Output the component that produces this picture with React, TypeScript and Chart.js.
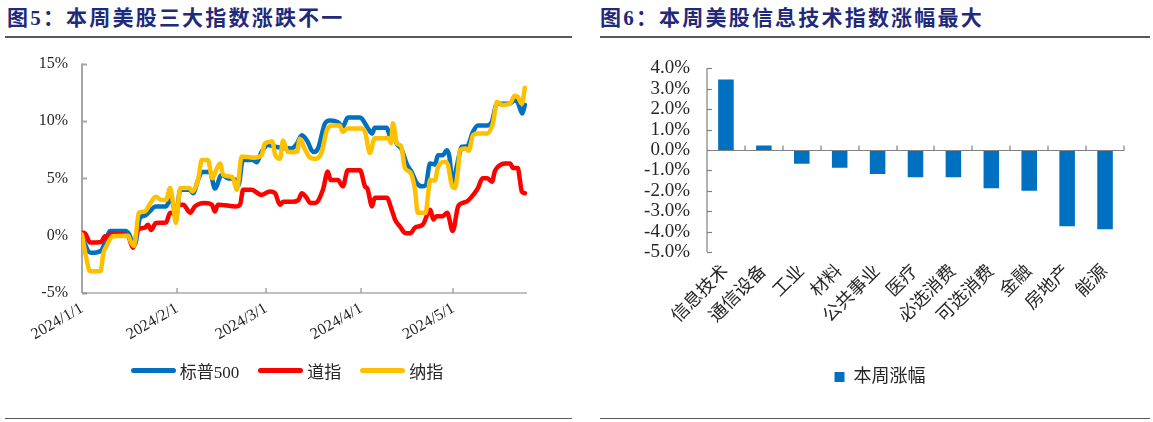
import React, { useEffect, useRef } from 'react';
import { Chart, registerables } from 'chart.js';

Chart.register(...registerables);

// ---------- Figure 5 data (day offset from 2024/1/1, cumulative % change) ----------
const monthTickDays = [0, 31, 60, 91, 121];
const monthTickLabels = ['2024/1/1', '2024/2/1', '2024/3/1', '2024/4/1', '2024/5/1'];

const spxDays = [0, 2, 3, 6.2, 7.5, 9.1, 14, 15.6, 16.6, 17.5, 18.9, 20.5, 22, 24, 27.4, 28.7, 29.6, 30.6, 32, 35, 36.2, 37.8, 39.1, 41.7, 43.3, 45.5, 47.5, 50.2, 51, 52.4, 55.7, 56.9, 58.5, 60.6, 62.9, 68.3, 70, 71.6, 73.5, 74.8, 75.6, 76.9, 79.2, 80.8, 83.4, 85, 86.6, 90.6, 91.5, 93.2, 94.5, 95.4, 99.3, 100.5, 101.3, 102.6, 104, 105.9, 107.5, 109, 110.7, 112, 113.4, 115, 116, 117.5, 118.9, 119.7, 120.8, 122, 123.8, 125.5, 127.4, 129, 132, 133.5, 135.2, 139.4, 141, 142, 143.5, 144.3];
const spxValues = [0, -1.35, -1.5, -1.3, -0.6, 0.4, 0.4, 0, -0.9, -0.6, 1.55, 1.75, 2.1, 2.55, 2.55, 3.1, 2.8, 1.6, 4.0, 4.0, 3.7, 4.85, 5.55, 5.55, 4.1, 5.3, 5.0, 4.85, 4.4, 6.6, 6.6, 6.4, 7.3, 7.9, 7.75, 7.6, 8.0, 8.75, 8.2, 7.45, 7.3, 7.6, 9.8, 10.05, 9.9, 9.5, 10.3, 10.3, 10.1, 9.35, 8.9, 9.4, 9.4, 8.6, 9.0, 8.0, 7.6, 6.2, 5.5, 4.6, 4.3, 4.4, 6.3, 6.2, 7.0, 7.0, 7.45, 6.9, 4.5, 5.9, 7.75, 7.8, 9.05, 9.6, 9.6, 9.9, 11.5, 11.5, 11.8, 11.6, 10.65, 11.4];

const dowDays = [0, 1, 2.6, 6.2, 7.5, 8.5, 9.5, 12, 15, 16.6, 18.2, 20.5, 21.5, 22.5, 24.1, 27.4, 28.7, 30, 31.3, 33, 35.2, 36.8, 38.4, 40, 42.3, 43.3, 44.3, 50.2, 51.5, 52.5, 55.2, 58.5, 61.2, 62.9, 64.5, 65.6, 68.3, 70.5, 71.6, 73.2, 74.3, 76, 78.5, 80.1, 81, 83.4, 85, 86.6, 90.6, 92.2, 93, 94.5, 95.4, 99.3, 101, 102, 103.6, 105.2, 107, 108.5, 111, 113.5, 114.5, 115.5, 117.5, 119, 120.8, 122.5, 124, 125.5, 127, 129, 130.5, 132, 133.6, 134.5, 135.5, 137.8, 139.5, 140.4, 142, 142.7, 143.3, 144.3];
const dowValues = [0.25, 0.2, -0.6, -0.55, -0.05, -0.3, 0.2, 0.15, -0.05, -1.05, 0.5, 0.7, 0.95, 0.5, 1.1, 1.15, 2.0, 1.9, 2.7, 2.7, 2.0, 2.55, 2.8, 2.85, 2.7, 2.1, 2.7, 2.55, 2.7, 4.0, 4.0, 3.55, 3.85, 3.7, 2.7, 2.95, 2.95, 3.1, 3.7, 3.3, 2.85, 2.85, 4.0, 5.6, 4.85, 4.85, 4.3, 5.7, 5.7, 4.3, 4.1, 2.55, 3.3, 3.3, 2.2, 1.4, 0.8, 0.25, 0.2, 0.7, 0.95, 2.25, 1.4, 1.7, 1.7, 2.0, 0.4, 2.5, 2.85, 3.0, 3.4, 4.15, 5.0, 5.0, 4.7, 5.6, 6.0, 6.3, 6.3, 5.9, 5.9, 4.85, 3.85, 3.7];

const ndxDays = [0, 1.3, 2.6, 6, 7, 8, 10, 15, 16, 17, 18.5, 20.5, 22, 24, 26, 27.4, 28.7, 29.6, 30.6, 32, 35, 36, 38, 39, 41, 42.5, 44, 45, 46, 49, 50.5, 52, 56, 58.5, 59.5, 62, 63, 64.5, 65.5, 67, 70, 71, 72.5, 74.3, 76, 78, 79.8, 81.4, 84, 85, 86.6, 91, 92.2, 93.8, 95.4, 100, 100.7, 101.3, 102.6, 104, 105.2, 107, 108.5, 109.4, 112, 112.7, 113.4, 115, 116, 118.2, 119.2, 120.5, 121.5, 122.5, 123.1, 125, 126, 127.4, 129, 132, 133.9, 135.2, 137, 139.4, 141, 142, 143.3, 144.3];
const ndxValues = [0.1, -1.8, -3.1, -3.1, -1.5, -0.9, -0.05, 0, -0.6, -0.9, 2.0, 2.1, 2.7, 3.4, 3.1, 3.1, 4.15, 3.0, 1.1, 4.15, 4.15, 3.85, 5.1, 6.6, 6.6, 5.0, 5.9, 6.3, 5.3, 5.1, 4.0, 6.9, 6.8, 7.0, 8.0, 8.2, 7.0, 6.7, 8.3, 7.3, 7.3, 8.45, 7.6, 6.8, 6.7, 7.2, 9.2, 9.6, 9.6, 9.05, 9.35, 9.35, 9.1, 7.2, 8.5, 8.5, 8.05, 9.8, 8.05, 7.8, 5.9, 5.5, 4.0, 2.0, 2.0, 3.4, 4.85, 4.8, 6.0, 6.45, 6.2, 4.4, 4.15, 5.7, 7.45, 7.6, 7.4, 8.75, 8.9, 8.9, 9.8, 11.65, 11.4, 11.5, 12.2, 12.1, 11.5, 12.9];

const lineSeriesNames = ['标普500', '道指', '纳指'];
const lineSeriesColors = ['#0070C0', '#FF0000', '#FFC000'];

// ---------- Figure 6 data ----------
const sectorNames = ['信息技术', '通信设备', '工业', '材料', '公共事业', '医疗', '必选消费', '可选消费', '金融', '房地产', '能源'];
const sectorWeeklyChange = [3.45, 0.22, -0.68, -0.87, -1.18, -1.34, -1.34, -1.87, -2.0, -3.74, -3.89];
const barSeriesName = '本周涨幅';

const FONT_FAMILY = "'Liberation Serif', 'Noto Sans CJK SC', serif";
const TICK_COLOR = '#262626';

function toPoints(days: number[], values: number[]) {
  return days.map((d, i) => ({ x: d, y: values[i] }));
}

const lineAxesPlugin = {
  id: 'lineAxes',
  beforeDatasetsDraw(chart: any) {
    const { ctx, chartArea } = chart;
    const x = chart.scales.x;
    const y = chart.scales.y;
    ctx.save();
    ctx.strokeStyle = '#A6A6A6';
    ctx.lineWidth = 2;
    ctx.beginPath();
    ctx.moveTo(chartArea.left, chartArea.top);
    ctx.lineTo(chartArea.left, chartArea.bottom);
    ctx.stroke();
    y.ticks.forEach((t: any) => {
      const py = Math.round(y.getPixelForValue(t.value)) + 0.5;
      ctx.beginPath();
      ctx.moveTo(chartArea.left, py);
      ctx.lineTo(chartArea.left + 5, py);
      ctx.stroke();
    });
    ctx.strokeStyle = '#808080';
    ctx.lineWidth = 1.2;
    ctx.beginPath();
    ctx.moveTo(chartArea.left, chartArea.bottom);
    ctx.lineTo(chartArea.right, chartArea.bottom);
    ctx.stroke();
    ctx.strokeStyle = '#A6A6A6';
    ctx.lineWidth = 1.5;
    x.ticks.forEach((t: any) => {
      const px = Math.round(x.getPixelForValue(t.value));
      ctx.beginPath();
      ctx.moveTo(px, chartArea.bottom);
      ctx.lineTo(px, chartArea.bottom - 5);
      ctx.stroke();
    });
    ctx.restore();
  },
};

const barAxesPlugin = {
  id: 'barAxes',
  afterDatasetsDraw(chart: any) {
    const { ctx, chartArea } = chart;
    const y = chart.scales.y;
    const x = chart.scales.x;
    ctx.save();
    ctx.strokeStyle = '#808080';
    ctx.lineWidth = 1.2;
    ctx.beginPath();
    ctx.moveTo(chartArea.left, chartArea.top);
    ctx.lineTo(chartArea.left, chartArea.bottom);
    ctx.stroke();
    y.ticks.forEach((t: any) => {
      const py = Math.round(y.getPixelForValue(t.value)) + 0.5;
      ctx.beginPath();
      ctx.moveTo(chartArea.left, py);
      ctx.lineTo(chartArea.left + 5, py);
      ctx.stroke();
    });
    const y0 = Math.round(y.getPixelForValue(0)) + 0.5;
    ctx.beginPath();
    ctx.moveTo(chartArea.left, y0);
    ctx.lineTo(chartArea.right, y0);
    ctx.stroke();
    const n = sectorNames.length;
    for (let k = 1; k <= n; k++) {
      const bx = k === n
        ? chartArea.right
        : Math.round((x.getPixelForValue(k - 1) + x.getPixelForValue(k)) / 2);
      ctx.beginPath();
      ctx.moveTo(bx, y0);
      ctx.lineTo(bx, y0 - 5);
      ctx.stroke();
    }
    ctx.restore();
  },
};

function LineChart() {
  const ref = useRef<HTMLCanvasElement>(null);
  useEffect(() => {
    const series = [
      { days: spxDays, values: spxValues, order: 3 },
      { days: dowDays, values: dowValues, order: 2 },
      { days: ndxDays, values: ndxValues, order: 1 },
    ];
    const chart = new Chart(ref.current as HTMLCanvasElement, {
      type: 'line',
      data: {
        datasets: series.map((s, i) => ({
          label: lineSeriesNames[i],
          data: toPoints(s.days, s.values),
          borderColor: lineSeriesColors[i],
          backgroundColor: lineSeriesColors[i],
          borderWidth: 4.5,
          borderCapStyle: 'round',
          borderJoinStyle: 'round',
          pointRadius: 0,
          cubicInterpolationMode: 'monotone',
          order: s.order,
        })),
      },
      options: {
        animation: false,
        responsive: false,
        maintainAspectRatio: false,
        layout: { padding: { left: 0, right: 48, top: 20, bottom: 67 } },
        plugins: {
          tooltip: { enabled: false },
          legend: { display: false },
        },
        scales: {
          x: {
            type: 'linear',
            min: 0,
            max: 145,
            afterBuildTicks: (scale: any) => {
              scale.ticks = monthTickDays.map((v) => ({ value: v }));
            },
            afterFit: (scale: any) => {
              scale.height = 60;
            },
            grid: { display: false, drawTicks: false },
            border: { display: false },
            ticks: {
              autoSkip: false,
              maxRotation: 30,
              minRotation: 30,
              padding: 6,
              color: TICK_COLOR,
              font: { family: FONT_FAMILY, size: 16 },
              callback: (v: any) => {
                const idx = monthTickDays.indexOf(Number(v));
                return idx >= 0 ? monthTickLabels[idx] : '';
              },
            },
          },
          y: {
            min: -5,
            max: 15,
            afterFit: (scale: any) => {
              scale.width = 82;
            },
            grid: { display: false, drawTicks: false },
            border: { display: false },
            ticks: {
              stepSize: 5,
              autoSkip: false,
              padding: 14,
              color: TICK_COLOR,
              font: { family: FONT_FAMILY, size: 16 },
              callback: (v: any) => `${v}%`,
            },
          },
        },
      } as any,
      plugins: [lineAxesPlugin],
    });
    return () => chart.destroy();
  }, []);
  return (
    <canvas
      ref={ref}
      width={575}
      height={380}
      style={{ position: 'absolute', left: 0, top: 40, width: 575, height: 380 }}
    />
  );
}

function LineLegend() {
  return (
    <div
      style={{
        position: 'absolute',
        left: 0,
        width: 574,
        top: 359,
        height: 22,
        display: 'flex',
        justifyContent: 'center',
        alignItems: 'center',
        fontFamily: FONT_FAMILY,
        fontSize: 17,
        color: TICK_COLOR,
        whiteSpace: 'nowrap',
      }}
    >
      {lineSeriesNames.map((name, i) => (
        <div key={name} style={{ display: 'flex', alignItems: 'center', marginRight: i < lineSeriesNames.length - 1 ? 19 : 0 }}>
          <span
            style={{
              display: 'inline-block',
              width: 45,
              height: 5,
              borderRadius: 3,
              background: lineSeriesColors[i],
              marginRight: 4,
            }}
          />
          <span>{name}</span>
        </div>
      ))}
    </div>
  );
}

function BarChart() {
  const ref = useRef<HTMLCanvasElement>(null);
  useEffect(() => {
    const chart = new Chart(ref.current as HTMLCanvasElement, {
      type: 'bar',
      data: {
        labels: sectorNames,
        datasets: [
          {
            label: barSeriesName,
            data: sectorWeeklyChange,
            backgroundColor: '#0070C0',
            borderWidth: 0,
            barPercentage: 0.41,
            categoryPercentage: 1,
          },
        ],
      },
      options: {
        animation: false,
        responsive: false,
        maintainAspectRatio: false,
        layout: { padding: { left: 36, right: 29, top: 28, bottom: 24 } },
        plugins: {
          tooltip: { enabled: false },
          legend: {
            position: 'bottom',
            labels: {
              boxWidth: 10,
              boxHeight: 10,
              padding: 10,
              color: TICK_COLOR,
              font: { family: FONT_FAMILY, size: 18 },
            },
          },
        },
        scales: {
          x: {
            afterFit: (scale: any) => {
              scale.height = 106;
            },
            grid: { display: false, drawTicks: false },
            border: { display: false },
            ticks: {
              autoSkip: false,
              maxRotation: 45,
              minRotation: 45,
              padding: 9,
              color: TICK_COLOR,
              font: { family: FONT_FAMILY, size: 18 },
            },
          },
          y: {
            min: -5,
            max: 4,
            afterFit: (scale: any) => {
              scale.width = 71;
            },
            grid: { display: false, drawTicks: false },
            border: { display: false },
            ticks: {
              stepSize: 1,
              autoSkip: false,
              padding: 17,
              color: TICK_COLOR,
              font: { family: FONT_FAMILY, size: 19 },
              callback: (v: any) => `${Number(v).toFixed(1)}%`,
            },
          },
        },
      } as any,
      plugins: [barAxesPlugin],
    });
    return () => chart.destroy();
  }, []);
  return (
    <canvas
      ref={ref}
      width={553}
      height={380}
      style={{ position: 'absolute', left: 600, top: 40, width: 553, height: 380 }}
    />
  );
}

const titleStyle: React.CSSProperties = {
  position: 'absolute',
  top: 5,
  fontFamily: FONT_FAMILY,
  fontWeight: 'bold',
  fontSize: 21,
  letterSpacing: 2.2,
  color: '#1F2A7A',
  whiteSpace: 'nowrap',
  lineHeight: '26px',
};

export default function App() {
  return (
    <div
      style={{
        position: 'fixed',
        left: 0,
        top: 0,
        width: 1153,
        height: 422,
        background: '#fff',
        overflow: 'hidden',
      }}
    >
      <div style={{ ...titleStyle, left: 7 }}>图5：本周美股三大指数涨跌不一</div>
      <div style={{ ...titleStyle, left: 600 }}>图6：本周美股信息技术指数涨幅最大</div>
      <div style={{ position: 'absolute', left: 5, top: 36, width: 567, height: 2, background: '#595959' }} />
      <div style={{ position: 'absolute', left: 600, top: 36, width: 550, height: 2, background: '#595959' }} />
      <div style={{ position: 'absolute', left: 5, top: 418, width: 567, height: 1, background: '#595959' }} />
      <div style={{ position: 'absolute', left: 600, top: 418, width: 550, height: 1, background: '#595959' }} />
      <LineChart />
      <LineLegend />
      <BarChart />
    </div>
  );
}
